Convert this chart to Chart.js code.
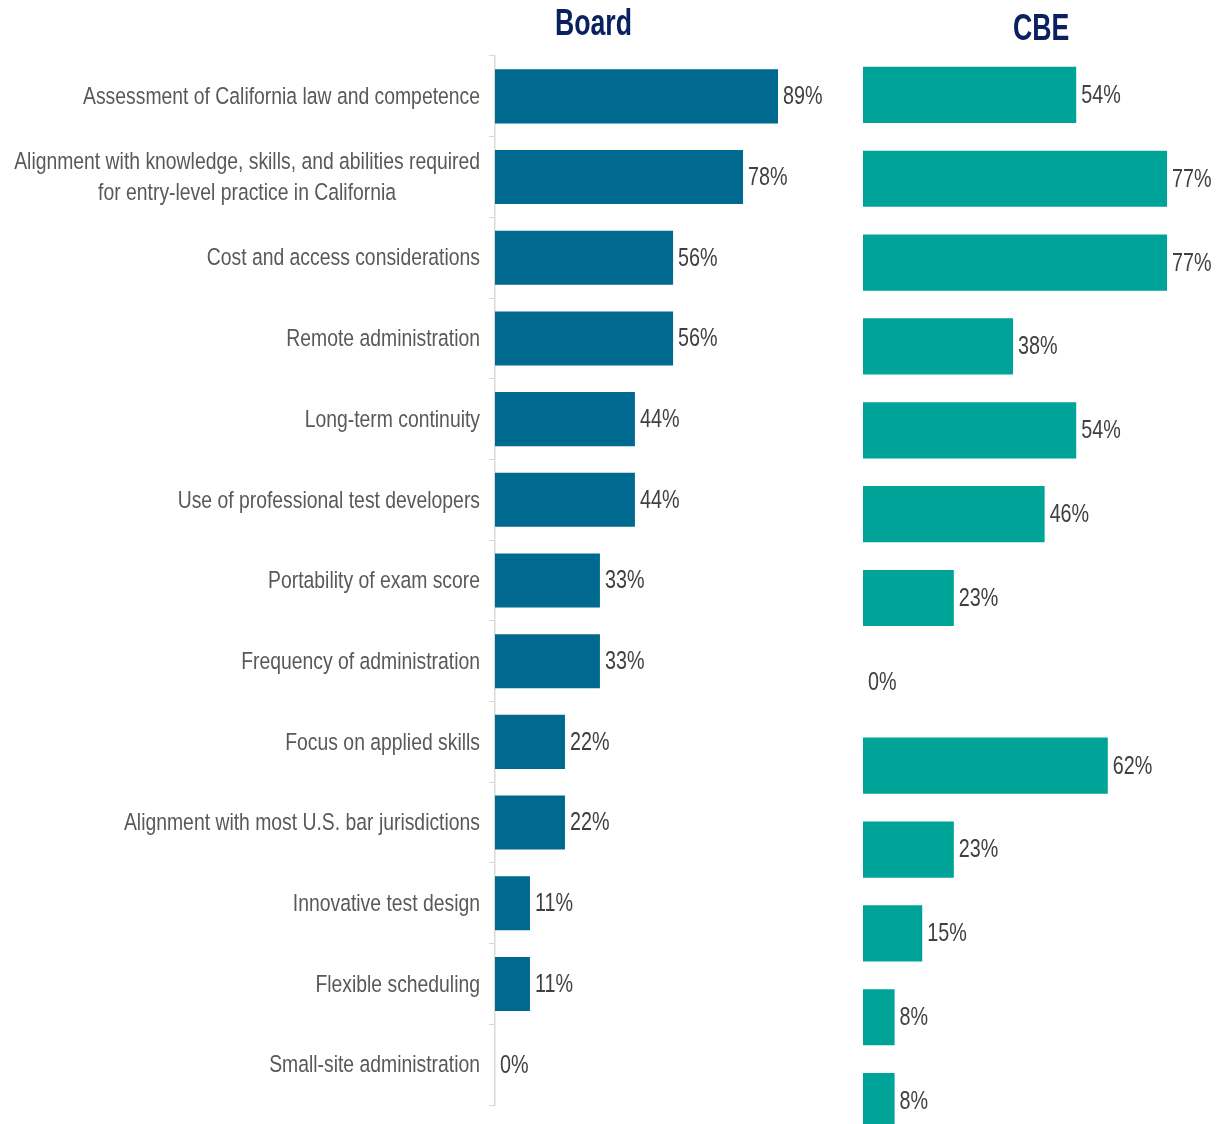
<!DOCTYPE html>
<html>
<head>
<meta charset="utf-8">
<script src="https://cdn.jsdelivr.net/npm/chart.js@4.4.1/dist/chart.umd.min.js"></script>
<style>
  html, body { margin: 0; padding: 0; background: #ffffff; overflow: hidden; }
  body { width: 1216px; height: 1124px; position: relative; }
  .panel { position: absolute; top: 0; }
  #boardWrap { left: 0; width: 860px; height: 1124px; }
  #cbeWrap { left: 850px; width: 366px; height: 1160px; }
  .ttl { position: absolute; font-family: 'Liberation Sans', Arial, sans-serif; font-weight: bold;
         font-size: 36px; line-height: 40px; color: #0a2161; white-space: nowrap;
         transform: scaleX(0.74); transform-origin: left top; }
  #ttlBoard { left: 555px; top: 3px; }
  #ttlCbe { left: 1013px; top: 8px; }
</style>
</head>
<body>
<div class="panel" id="boardWrap"><canvas id="board"></canvas></div>
<div class="panel" id="cbeWrap"><canvas id="cbe"></canvas></div>
<div class="ttl" id="ttlBoard">Board</div>
<div class="ttl" id="ttlCbe">CBE</div>
<script>
// Decision factors (multi-line entries are arrays of lines)
const categories = [
  'Assessment of California law and competence',
  ['Alignment with knowledge, skills, and abilities required', 'for entry-level practice in California'],
  'Cost and access considerations',
  'Remote administration',
  'Long-term continuity',
  'Use of professional test developers',
  'Portability of exam score',
  'Frequency of administration',
  'Focus on applied skills',
  'Alignment with most U.S. bar jurisdictions',
  'Innovative test design',
  'Flexible scheduling',
  'Small-site administration'
];
// Share of respondents rating each factor (%)
const boardValues = [89, 78, 56, 56, 44, 44, 33, 33, 22, 22, 11, 11, 0];
const cbeValues   = [54, 77, 77, 38, 54, 46, 23, 0, 62, 23, 15, 8, 8];

const FONT = "'Liberation Sans', Arial, sans-serif";
const NARROW = 0.79; // horizontal squeeze giving a narrow face
const BOARD_COLOR = '#006990';
const CBE_COLOR = '#00A398';

function narrowText(ctx, text, x, y) {
  ctx.save();
  ctx.translate(x, y);
  ctx.scale(NARROW, 1);
  ctx.fillText(text, 0, 0);
  ctx.restore();
}

// Writes "NN%" just past the end of each bar
const valueLabels = {
  id: 'valueLabels',
  afterDatasetsDraw(chart) {
    const ctx = chart.ctx;
    const meta = chart.getDatasetMeta(0);
    const data = chart.data.datasets[0].data;
    ctx.save();
    ctx.font = '25px ' + FONT;
    ctx.fillStyle = '#404040';
    ctx.textAlign = 'left';
    ctx.textBaseline = 'middle';
    meta.data.forEach((bar, i) => {
      narrowText(ctx, data[i] + '%', bar.x + 5, bar.y + 1);
    });
    ctx.restore();
  }
};

// Category names to the left of the axis; lines of one name are centred on each other
const categoryLabels = {
  id: 'categoryLabels',
  afterDraw(chart) {
    const ctx = chart.ctx;
    const y = chart.scales.y;
    const right = y.right - 15;
    const lineH = 31;
    ctx.save();
    ctx.font = '24.5px ' + FONT;
    ctx.fillStyle = '#595959';
    ctx.textBaseline = 'middle';
    categories.forEach((lbl, i) => {
      const lines = Array.isArray(lbl) ? lbl : [lbl];
      const cy = y.getPixelForValue(i) + 1;
      const maxW = Math.max(...lines.map(l => ctx.measureText(l).width)) * NARROW;
      lines.forEach((l, k) => {
        const ly = cy + (k - (lines.length - 1) / 2) * lineH;
        if (lines.length === 1) {
          ctx.textAlign = 'right';
          narrowText(ctx, l, right, ly);
        } else {
          ctx.textAlign = 'center';
          narrowText(ctx, l, right - maxW / 2, ly);
        }
      });
    });
    ctx.restore();
  }
};

const labelKeys = categories.map((c, i) => i);

new Chart(document.getElementById('board'), {
  type: 'bar',
  data: {
    labels: labelKeys,
    datasets: [{
      data: boardValues,
      backgroundColor: BOARD_COLOR,
      categoryPercentage: 1,
      barPercentage: 0.67
    }]
  },
  options: {
    indexAxis: 'y',
    responsive: true,
    maintainAspectRatio: false,
    animation: false,
    layout: { padding: { left: 0, right: 47, top: 56, bottom: 19 } },
    plugins: { legend: { display: false }, tooltip: { enabled: false }, title: { display: false } },
    scales: {
      x: { display: false, min: 0, max: 100 },
      y: {
        ticks: { display: false },
        grid: { offset: true, drawOnChartArea: false, drawTicks: true, tickLength: 6, color: '#d9d9d9', lineWidth: 1 },
        border: { display: true, color: '#d9d9d9', width: 1.5 },
        afterFit(scale) { scale.width = 495; }
      }
    }
  },
  plugins: [valueLabels, categoryLabels]
});

new Chart(document.getElementById('cbe'), {
  type: 'bar',
  data: {
    labels: labelKeys,
    datasets: [{
      data: cbeValues,
      backgroundColor: CBE_COLOR,
      categoryPercentage: 1,
      barPercentage: 0.67
    }]
  },
  options: {
    indexAxis: 'y',
    responsive: true,
    maintainAspectRatio: false,
    animation: false,
    layout: { padding: { left: 13, right: 0, top: 53, bottom: 17 } },
    plugins: { legend: { display: false }, tooltip: { enabled: false }, title: { display: false } },
    scales: {
      x: { display: false, min: 0, max: 89.4 },
      y: { display: false }
    }
  },
  plugins: [valueLabels]
});
</script>
</body>
</html>
